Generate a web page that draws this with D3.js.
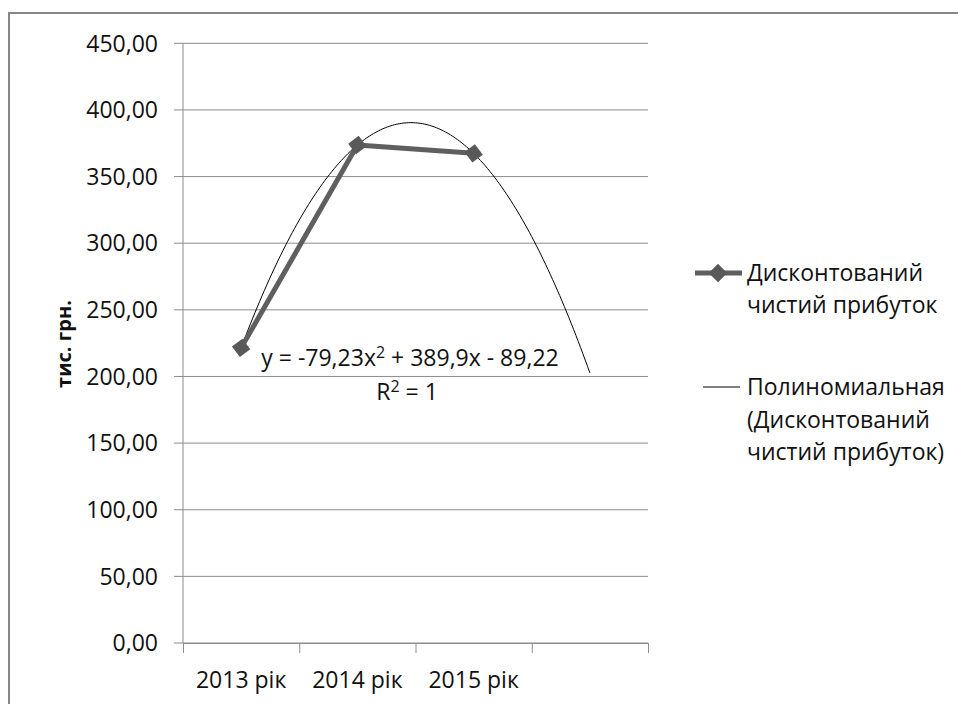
<!DOCTYPE html>
<html>
<head>
<meta charset="utf-8">
<script src="https://cdn.jsdelivr.net/npm/d3@7"></script>
<style>
  body { margin: 0; background: #fff; }
  text { font-family: 'Open Sans', sans-serif; fill: #111; }
</style>
</head>
<body>
<svg id="chart" width="958" height="704"></svg>
<script>
const years = ['2013 рік', '2014 рік', '2015 рік']
const profit = [221.45, 373.66, 367.41]
// polynomial trendline shown on the chart: y = a*x^2 + b*x + c
const trendCoef = [-79.23, 389.9, -89.22]
const trendForward = 1
const yTicks = [0, 50, 100, 150, 200, 250, 300, 350, 400, 450]
const seriesName = ['Дисконтований', 'чистий прибуток']
const trendName = ['Полиномиальная', '(Дисконтований', 'чистий прибуток)']

const fontSize = 23
const plot = { left: 183, right: 648, top: 43.3, bottom: 643 }

const svg = d3.select('#chart')

// outer chart border (runs off the right and bottom edges)
svg.append('rect')
  .attr('x', 9).attr('y', 13)
  .attr('width', 1000).attr('height', 800)
  .attr('fill', 'none')
  .attr('stroke', '#878787')
  .attr('stroke-width', 2)

const nSlots = years.length + trendForward
const x = d3.scaleLinear().domain([0.5, nSlots + 0.5]).range([plot.left, plot.right])
const y = d3.scaleLinear().domain([0, 450]).range([plot.bottom, plot.top])

// gridlines
svg.append('g')
  .selectAll('line')
  .data(yTicks)
  .enter()
  .append('line')
  .attr('x1', plot.left - 9)
  .attr('x2', plot.right)
  .attr('y1', d => y(d))
  .attr('y2', d => y(d))
  .attr('stroke', '#8c8c8c')
  .attr('stroke-width', 1)

// y labels
svg.append('g')
  .selectAll('text')
  .data(yTicks)
  .enter()
  .append('text')
  .attr('x', 158)
  .attr('y', d => y(d))
  .attr('dy', '0.36em')
  .attr('text-anchor', 'end')
  .style('font-size', fontSize + 'px')
  .text(d => d3.format('.2f')(d).replace('.', ','))

// y axis line
svg.append('line')
  .attr('x1', plot.left).attr('x2', plot.left)
  .attr('y1', plot.top).attr('y2', plot.bottom)
  .attr('stroke', '#8c8c8c')

// x axis with ticks between categories
const xAxis = d3.axisBottom(x)
  .tickValues(d3.range(0.5, nSlots + 1, 1))
  .tickFormat('')
  .tickSize(10)
  .tickSizeOuter(0)
const gx = svg.append('g')
  .attr('transform', 'translate(0,' + plot.bottom + ')')
  .call(xAxis)
gx.selectAll('line, path').attr('stroke', '#8c8c8c')

svg.append('g')
  .selectAll('text')
  .data(years)
  .enter()
  .append('text')
  .attr('x', (d, i) => x(i + 1))
  .attr('y', 680)
  .attr('dy', '0.36em')
  .attr('text-anchor', 'middle')
  .style('font-size', fontSize + 'px')
  .text(d => d)

// axis title
svg.append('text')
  .attr('transform', 'translate(64,344) rotate(-90)')
  .attr('dy', '0.36em')
  .attr('text-anchor', 'middle')
  .style('font-size', '20px')
  .style('font-weight', 700)
  .text('тис. грн.')

// trendline
const trendPts = d3.range(1, years.length + trendForward + 0.001, 0.02).map(t => [
  t,
  trendCoef[0] * t * t + trendCoef[1] * t + trendCoef[2]
])
svg.append('path')
  .datum(trendPts)
  .attr('fill', 'none')
  .attr('stroke', '#000')
  .attr('stroke-width', 1)
  .attr('d', d3.line().x(d => x(d[0])).y(d => y(d[1])))

// series line
const seriesColor = '#5f5f5f'
svg.append('path')
  .datum(profit)
  .attr('fill', 'none')
  .attr('stroke', seriesColor)
  .attr('stroke-width', 5)
  .attr('stroke-linejoin', 'round')
  .attr('d', d3.line().x((d, i) => x(i + 1)).y(d => y(d)))

const diamond = d3.symbol().type(d3.symbolDiamond2).size(220)
svg.append('g')
  .selectAll('path')
  .data(profit)
  .enter()
  .append('path')
  .attr('transform', (d, i) => 'translate(' + x(i + 1) + ',' + y(d) + ') rotate(8)')
  .attr('d', diamond)
  .attr('fill', '#595959')

// equation label
svg.append('text')
  .attr('x', 410).attr('y', 366)
  .attr('text-anchor', 'middle')
  .style('font-size', fontSize + 'px')
  .html('y = -79,23x<tspan dy="-8" font-size="16">2</tspan><tspan dy="8"> + 389,9x - 89,22</tspan>')
svg.append('text')
  .attr('x', 407).attr('y', 400)
  .attr('text-anchor', 'middle')
  .style('font-size', fontSize + 'px')
  .html('R<tspan dy="-8" font-size="16">2</tspan><tspan dy="8"> = 1</tspan>')

// legend
const leg1 = svg.append('g').attr('transform', 'translate(0,273)')
leg1.append('line')
  .attr('x1', 695).attr('x2', 742)
  .attr('stroke', seriesColor).attr('stroke-width', 5)
leg1.append('path')
  .attr('transform', 'translate(718,0)')
  .attr('d', diamond)
  .attr('fill', '#595959')
leg1.selectAll('text')
  .data(seriesName)
  .enter()
  .append('text')
  .attr('x', 747)
  .attr('y', (d, i) => i * 32)
  .attr('dy', '0.36em')
  .style('font-size', fontSize + 'px')
  .text(d => d)

const leg2 = svg.append('g').attr('transform', 'translate(0,387)')
leg2.append('line')
  .attr('x1', 703).attr('x2', 740)
  .attr('stroke', '#000').attr('stroke-width', 1)
leg2.selectAll('text')
  .data(trendName)
  .enter()
  .append('text')
  .attr('x', 747)
  .attr('y', (d, i) => i * 32.5)
  .attr('dy', '0.36em')
  .style('font-size', fontSize + 'px')
  .text(d => d)
</script>
</body>
</html>
